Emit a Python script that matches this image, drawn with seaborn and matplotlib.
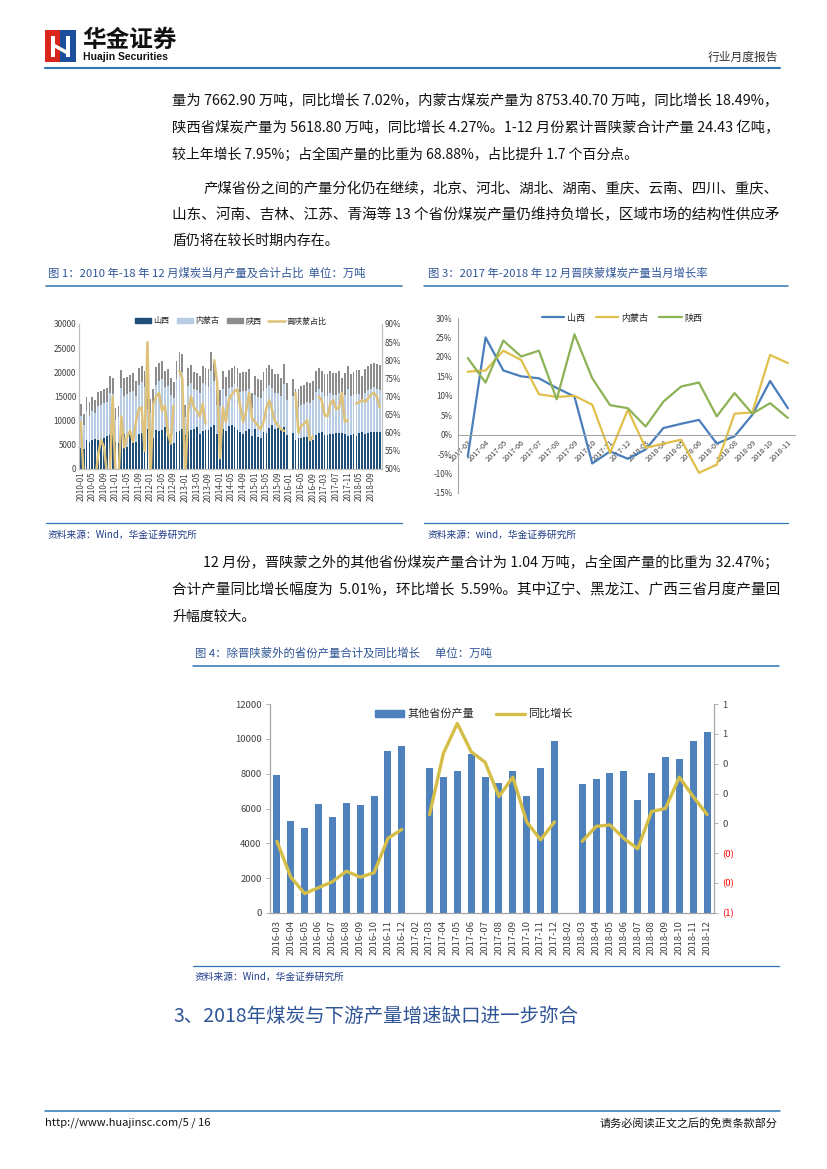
import numpy as np
import pandas as pd
import matplotlib
matplotlib.use("Agg")
import matplotlib.pyplot as plt
from matplotlib.patches import Patch, Rectangle, Polygon
from matplotlib.lines import Line2D
import seaborn as sns

nan = np.nan

# ---------------- 图1 数据 (万吨, %) ----------------
months1 = ([f"{y}-{m:02d}" for y in range(2010, 2017) for m in range(1, 13)]
           + [f"2017-{m:02d}" for m in range(3, 13)]
           + [f"2018-{m:02d}" for m in range(3, 13)])
# 堆叠柱顶端: 山西 / 山西+内蒙古 / 三省合计
shanxi_top = [4400, 4200, 6000, 5500, 6000, 6200, 5900, 6300, 6500, 6800, 7000, 7100,
              5500, 5300, 7300, 7200, 4500, 7300, 7000, 5600, 7300, 7500, 8000, 8300,
              7000, 6500, 8000, 7900, 8100, 8600, 8200, 7300, 5300, 7600, 7900, 8200,
              7000, 7900, 8100, 8300, 8600, 7200, 7800, 8000, 8100, 8600, 9200, 7200,
              7300, 8300, 7800, 8800, 9100, 8600, 8000, 7600, 7200, 7900, 8200, 6800,
              8300, 6700, 6400, 7600, 7400, 8500, 9200, 8200, 8400, 8100, 8600, 7000,
              nan, 7500, 5900, 6400, 6400, 6600, 6600, 6300, 6100, 7000, 7400, 7600,
              7100, 7000, 7200, 7300, 7400, 7500, 7400, 7300, 6800, 7100,
              7200, 6800, 7400, 7600, 7300, 7400, 7600, 7600, 7700, 7660]
neimeng_top = [11000, 9000, 12000, 11000, 12000, 11600, 13000, 13200, 13700, 13800, 15800, 15600,
               10200, 10800, 16800, 15200, 15600, 16000, 16200, 15000, 17400, 17900, 17000, 12500,
               11500, 13200, 17400, 18200, 18600, 16900, 17100, 15300, 14600, 18700, 20400, 20000,
               10800, 17200, 17800, 16600, 16300, 15700, 17700, 17300, 16900, 20300, 18200, 13300,
               13000, 16500, 15200, 16700, 16900, 17500, 16900, 15900, 16200, 16100, 16600, 12600,
               15400, 14900, 14700, 16200, 16800, 17400, 16700, 15800, 15700, 15000, 17600, 14200,
               nan, 15000, 12700, 12800, 13300, 13400, 13900, 13700, 14200, 15900, 16500, 15900,
               15100, 15200, 15700, 15300, 15300, 15700, 14500, 15300, 16500, 15000,
               15300, 15500, 15600, 14500, 15800, 16300, 16600, 16900, 16600, 16400]
shaanxi_top = [13500, 11300, 14800, 13800, 14800, 14200, 16000, 16100, 16600, 16700, 19200, 18800,
               12600, 13100, 20500, 18800, 19000, 19500, 19800, 18300, 20800, 21400, 20300, 15000,
               14500, 16500, 21000, 21900, 22400, 20300, 20600, 18800, 18000, 22300, 24200, 23800,
               13300, 20900, 21500, 20100, 19900, 19300, 21400, 20900, 20600, 24200, 22000, 16500,
               16400, 20300, 19000, 20500, 20800, 21400, 20800, 19800, 20100, 20000, 20600, 15800,
               19300, 18700, 18400, 20100, 20800, 21500, 20600, 19700, 19600, 18900, 21700, 17700,
               nan, 18700, 16500, 16500, 17200, 17300, 17900, 17700, 18300, 20300, 20900, 20200,
               19600, 19700, 20300, 19800, 19800, 20300, 18800, 19900, 21400, 19700,
               20000, 20400, 20400, 19300, 20700, 21400, 21800, 22000, 21700, 21500]
share = [63, 48, 45, 45, 48, 47, 54, 58, 56, 49, 48, 70,
         47, 47, 64.5, 56, 59, 60.5, 57.5, 63, 66.5, 67, 55, 85,
         47, 68, 70, 71, 66, 67.5, 60, 57, 67.5, nan, 77, 75,
         47, 66, 70, 67, 66, 64.5, 68, 62.5, nan, nan, 80, 74,
         53, 67, 63, 69, 70.5, 71.5, 72, 67, 63, 66, 71, 64,
         63, 62, 61, 63, 67, 69, 66, 63, 62, 61, 60.5, nan,
         nan, nan, 71, 60, 62, 62.5, 63.5, 58, 59, nan, 70, 69,
         65, 64.5, 68, 69, 66.5, 67, 71, 63, 63.5, nan,
         nan, 68, 68.5, 69, 68.5, 69.5, 70.5, 71, 70, 67]

# ---------------- 图3 数据 (%) ----------------
months3 = ['2017-03', '2017-04', '2017-05', '2017-06', '2017-07', '2017-08', '2017-09',
           '2017-10', '2017-11', '2017-12', '2018-03', '2018-04', '2018-05', '2018-06',
           '2018-07', '2018-08', '2018-09', '2018-10', '2018-11']
yoy_shanxi = [-5.6, 25.0, 16.5, 15.0, 14.5, 12.0, 9.8, -7.4, -4.3, -6.2, -3.8,
              1.7, 2.8, 3.8, -2.3, -0.4, 5.1, 13.8, 6.8]
yoy_neimeng = [16.2, 16.5, 21.6, 19.2, 10.4, 9.7, 10.0, 7.7, -4.7, 6.4, -3.4,
               -2.3, -1.3, -9.8, -7.7, 5.4, 5.7, 20.5, 18.4]
yoy_shaanxi = [19.7, 13.4, 24.2, 20.1, 21.6, 9.1, 25.8, 14.5, 7.6, 6.8, 2.1,
               8.5, 12.4, 13.4, 4.7, 10.7, 5.4, 8.1, 4.3]

# ---------------- 图4 数据 ----------------
months4 = ['2016-03', '2016-04', '2016-05', '2016-06', '2016-07', '2016-08', '2016-09',
           '2016-10', '2016-11', '2016-12', '2017-02', '2017-03', '2017-04', '2017-05',
           '2017-06', '2017-07', '2017-08', '2017-09', '2017-10', '2017-11', '2017-12',
           '2018-02', '2018-03', '2018-04', '2018-05', '2018-06', '2018-07', '2018-08',
           '2018-09', '2018-10', '2018-11', '2018-12']
other_output = [7900, 5300, 4900, 6250, 5500, 6300, 6200, 6700, 9300, 9600, nan,
                8350, 7800, 8150, 9150, 7800, 7450, 8150, 6700, 8350, 9850, nan,
                7400, 7700, 8050, 8150, 6500, 8050, 8950, 8850, 9900, 10400]
other_yoy = [-0.12, -0.36, -0.47, -0.43, -0.39, -0.32, -0.36, -0.33, -0.10, -0.04, nan,
             0.06, 0.47, 0.67, 0.48, 0.41, 0.18, 0.31, 0.01, -0.11, 0.01, nan,
             -0.12, -0.02, -0.01, -0.10, -0.17, 0.08, 0.10, 0.31, 0.18, 0.06]

# ---------------- 样式 ----------------
W, H = 827, 1169
sns.set_theme(style="white")
plt.rcParams['font.family'] = ['Noto Sans CJK SC', 'DejaVu Sans']
plt.rcParams['axes.unicode_minus'] = False

RULE = '#2E75B6'
TITLE_C = '#2F5597'
SRC_C = '#1F3C88'
TICK_C = '#404040'
AX_C = '#BFBFBF'

fig = plt.figure(figsize=(W / 100, H / 100), dpi=100)
renderer = fig.canvas.get_renderer()


def fx(x):
    return x / W


def fy(y):
    return 1 - y / H


def box(l, t, r, b):
    return [l / W, 1 - b / H, (r - l) / W, (b - t) / H]


def txt(x, y, s, **kw):
    kw.setdefault('va', 'center')
    return fig.text(fx(x), fy(y), s, **kw)


def hline(x0, x1, y, color=RULE, lw=1.1):
    fig.add_artist(Line2D([fx(x0), fx(x1)], [fy(y), fy(y)], color=color, lw=lw))


def body(x, y, s, right=None, fs=10):
    t = txt(x, y, s, fontsize=fs, color='#111111')
    if right is not None:
        w = t.get_window_extent(renderer).width
        t.set_fontsize(fs * (right - x) / w)
    return t


def segments(df, col):
    seg = df[col].isna().cumsum()
    return df.assign(seg=seg).dropna(subset=[col])


# ---------------- 页眉 ----------------
fig.add_artist(Rectangle((fx(45), fy(62)), fx(15), 32 / H, color='#D9261C', lw=0))
fig.add_artist(Rectangle((fx(60), fy(62)), fx(16), 32 / H, color='#1B4F9C', lw=0))
fig.add_artist(Polygon([(fx(51), fy(36)), (fx(55), fy(36)), (fx(55), fy(44)), (fx(66), fy(50)),
                        (fx(66), fy(36)), (fx(70), fy(36)), (fx(70), fy(57)), (fx(66), fy(57)),
                        (fx(66), fy(54)), (fx(55), fy(48)), (fx(55), fy(57)), (fx(51), fy(57))],
                       closed=True, color='white', lw=0))
txt(82, 40, '华金证券', fontsize=17, fontweight='bold', color='#111111')
txt(83, 57, 'Huajin Securities', fontsize=7.5, fontweight='bold', color='#111111',
    family=['Liberation Sans Narrow', 'Liberation Sans', 'DejaVu Sans'])
txt(778, 57, '行业月度报告', fontsize=8.5, color='#333333', ha='right')
hline(45, 780, 68, lw=1.5)

# ---------------- 正文 ----------------
body(172, 101, '量为 7662.90 万吨，同比增长 7.02%，内蒙古煤炭产量为 8753.40.70 万吨，同比增长 18.49%，', right=778)
body(172, 128, '陕西省煤炭产量为 5618.80 万吨，同比增长 4.27%。1-12 月份累计晋陕蒙合计产量 24.43 亿吨，', right=778)
body(172, 155, '较上年增长 7.95%；占全国产量的比重为 68.88%，占比提升 1.7 个百分点。')
body(203, 189, '产煤省份之间的产量分化仍在继续，北京、河北、湖北、湖南、重庆、云南、四川、重庆、', right=778)
body(172, 215, '山东、河南、吉林、江苏、青海等 13 个省份煤炭产量仍维持负增长，区域市场的结构性供应矛', right=778)
body(172, 241, '盾仍将在较长时期内存在。')

# ---------------- 图1 / 图3 标题 ----------------
txt(48, 273, '图 1：2010 年-18 年 12 月煤炭当月产量及合计占比  单位：万吨', fontsize=8.2, color=TITLE_C)
txt(428, 273, '图 3：2017 年-2018 年 12 月晋陕蒙煤炭产量当月增长率', fontsize=8.2, color=TITLE_C)
hline(46, 402, 286)
hline(424, 788, 286)

# ---------------- 图1 ----------------
df1 = pd.DataFrame({'pos': np.arange(len(months1)), 'month': months1,
                    'total': shaanxi_top, 'mid': neimeng_top, 'low': shanxi_top,
                    'share': share})
ax1 = fig.add_axes(box(79, 324, 382, 469))
for col, c in [('total', '#8C8C8C'), ('mid', '#B8CCE4'), ('low', '#1F4E79')]:
    sns.barplot(data=df1.dropna(subset=[col]), x='pos', y=col, native_scale=True, orient='x',
                color=c, width=0.62, saturation=1, errorbar=None, linewidth=0, ax=ax1)
ax1r = ax1.twinx()
sns.lineplot(data=segments(df1, 'share'), x='pos', y='share', units='seg', estimator=None,
             color='#DFC27A', lw=1.8, legend=False, ax=ax1r)
ax1.set_ylim(0, 30000)
ax1.set_yticks(np.arange(0, 30001, 5000))
ax1r.set_ylim(50, 90)
ax1r.set_yticks(np.arange(50, 91, 5))
ax1r.set_yticklabels([f'{v}%' for v in range(50, 91, 5)])
ax1.set_xlim(-0.6, len(months1) - 0.2)
ax1.set_xticks(df1['pos'][::4])
ax1.set_xticklabels(months1[::4], rotation=90, fontsize=5.8, color=TICK_C)
for a in (ax1, ax1r):
    a.set_xlabel('')
    a.set_ylabel('')
    a.tick_params(axis='y', labelsize=5.8, colors=TICK_C, length=0, pad=2)
    for s in a.spines.values():
        s.set_color(AX_C)
        s.set_linewidth(0.8)
    a.spines['top'].set_visible(False)
ax1.tick_params(axis='x', length=0, pad=2)
fig.legend(handles=[Patch(color='#1F4E79', label='山西'), Patch(color='#B8CCE4', label='内蒙古'),
                    Patch(color='#8C8C8C', label='陕西'),
                    Line2D([], [], color='#DFC27A', lw=1.8, label='晋陕蒙占比')],
           loc='center', bbox_to_anchor=(fx(231), fy(321)), ncol=4, frameon=False,
           fontsize=5.8, handlelength=2.0, handleheight=0.6, columnspacing=0.9, handletextpad=0.3)

# ---------------- 图3 ----------------
df3 = pd.DataFrame({'pos': np.arange(len(months3)), '山西': yoy_shanxi,
                    '内蒙古': yoy_neimeng, '陕西': yoy_shaanxi})
long3 = df3.melt(id_vars='pos', var_name='省份', value_name='yoy')
pal3 = {'山西': '#4A7EBB', '内蒙古': '#E0C04A', '陕西': '#8DB255'}
ax3 = fig.add_axes(box(458, 318, 795, 493))
sns.lineplot(data=long3, x='pos', y='yoy', hue='省份', hue_order=['山西', '内蒙古', '陕西'],
             palette=pal3, lw=1.6, legend=False, ax=ax3)
ax3.spines['top'].set_visible(False)
ax3.spines['right'].set_visible(False)
ax3.spines['bottom'].set_position(('data', 0))
for s in ('left', 'bottom'):
    ax3.spines[s].set_color('#A6A6A6')
    ax3.spines[s].set_linewidth(0.8)
ax3.set_ylim(-15, 30)
ax3.set_yticks(np.arange(-15, 31, 5))
ax3.set_yticklabels([f'{v}%' for v in range(-15, 31, 5)])
ax3.set_xlim(-0.55, len(months3) - 0.6)
ax3.set_xticks(df3['pos'])
ax3.set_xticklabels(months3, rotation=45, ha='right', rotation_mode='anchor',
                    fontsize=5.3, color=TICK_C)
ax3.set_xlabel('')
ax3.set_ylabel('')
ax3.tick_params(axis='y', labelsize=5.8, colors=TICK_C, length=2, width=0.6, pad=2)
ax3.tick_params(axis='x', length=0, pad=3)
fig.legend(handles=[Line2D([], [], color=pal3[k], lw=1.6, label=k) for k in ['山西', '内蒙古', '陕西']],
           loc='center', bbox_to_anchor=(fx(622), fy(318)), ncol=3, frameon=False,
           fontsize=6.5, handlelength=2.5, columnspacing=1.2, handletextpad=0.3)

# 图1 / 图3 底线与来源
hline(46, 402, 523, lw=0.9)
hline(424, 788, 523, lw=0.9)
txt(48, 535, '资料来源：Wind，华金证券研究所', fontsize=7, style='italic', color=SRC_C)
txt(428, 535, '资料来源：wind，华金证券研究所', fontsize=7, style='italic', color=SRC_C)

# ---------------- 正文 ----------------
body(203, 563, '12 月份，晋陕蒙之外的其他省份煤炭产量合计为 1.04 万吨，占全国产量的比重为 32.47%；', right=778)
body(172, 590, '合计产量同比增长幅度为  5.01%，环比增长  5.59%。其中辽宁、黑龙江、广西三省月度产量回', right=778)
body(172, 617, '升幅度较大。')

# ---------------- 图4 ----------------
txt(195, 653, '图 4：除晋陕蒙外的省份产量合计及同比增长      单位：万吨', fontsize=8.2, color=TITLE_C)
hline(193, 779, 666)

df4 = pd.DataFrame({'pos': np.arange(len(months4)), 'month': months4,
                    'output': other_output, 'yoy': other_yoy})
ax4 = fig.add_axes(box(270, 704, 714, 913))
sns.barplot(data=df4.dropna(subset=['output']), x='pos', y='output', native_scale=True, orient='x',
            color='#4F81BD', width=0.5, saturation=1, errorbar=None, linewidth=0, ax=ax4)
ax4r = ax4.twinx()
sns.lineplot(data=segments(df4, 'yoy'), x='pos', y='yoy', units='seg', estimator=None,
             color='#D5BE48', lw=2.4, legend=False, ax=ax4r)
ax4.set_ylim(0, 12000)
ax4.set_yticks(np.arange(0, 12001, 2000))
ax4.set_xlim(-0.5, len(months4) - 0.5)
ax4.set_xticks(df4['pos'])
ax4.set_xticklabels(months4, rotation=90, fontsize=6.8, color=TICK_C)

r_ticks = np.round(np.arange(-0.6, 0.81, 0.2), 1)


def excel_fmt(v):
    r = int(np.floor(abs(v) + 0.5))
    return f'({r})' if v < -1e-9 else f'{r}'


ax4r.set_ylim(-0.6, 0.8)
ax4r.set_yticks(r_ticks)
ax4r.set_yticklabels([excel_fmt(v) for v in r_ticks])
for lab, v in zip(ax4r.get_yticklabels(), r_ticks):
    lab.set_color('#FF0000' if v < -1e-9 else TICK_C)
for a in (ax4, ax4r):
    a.set_xlabel('')
    a.set_ylabel('')
    a.tick_params(axis='y', labelsize=6.8, length=3, width=0.6, color='#A6A6A6', pad=3)
    for s in a.spines.values():
        s.set_color('#A6A6A6')
        s.set_linewidth(0.8)
    a.spines['top'].set_visible(False)
ax4.tick_params(axis='y', labelcolor=TICK_C)
ax4.tick_params(axis='x', length=3, width=0.6, color='#A6A6A6', pad=2)
fig.legend(handles=[Patch(color='#4F81BD', label='其他省份产量'),
                    Line2D([], [], color='#D5BE48', lw=2.4, label='同比增长')],
           loc='center', bbox_to_anchor=(fx(474), fy(714)), ncol=2, frameon=False,
           fontsize=8, handlelength=2.6, handleheight=0.55, columnspacing=2.0, handletextpad=0.3)

hline(193, 779, 966, lw=0.9)
txt(195, 977, '资料来源：Wind，华金证券研究所', fontsize=7, style='italic', color=SRC_C)

# ---------------- 小节标题 ----------------
txt(173, 1017, '3、2018年煤炭与下游产量增速缺口进一步弥合', fontsize=14, color=TITLE_C)

# ---------------- 页脚 ----------------
hline(45, 780, 1111, lw=1.1)
txt(45, 1123, 'http://www.huajinsc.com/5 / 16', fontsize=8, color='#111111')
txt(778, 1123, '请务必阅读正文之后的免责条款部分', fontsize=8, color='#111111', ha='right')

fig.savefig('out.png', dpi=100)
